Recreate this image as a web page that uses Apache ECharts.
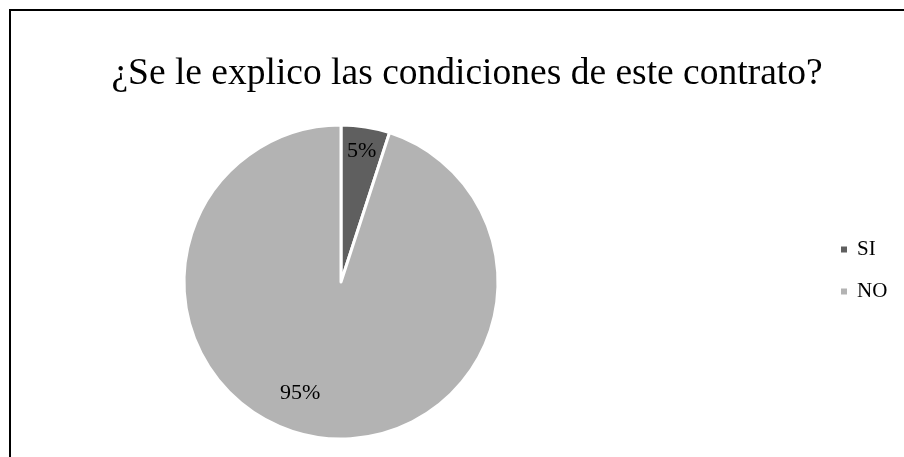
<!DOCTYPE html>
<html>
<head>
<meta charset="utf-8">
<script src="https://cdn.jsdelivr.net/npm/echarts@6/dist/echarts.min.js"></script>
<style>
  html, body { margin: 0; padding: 0; background: #fff; }
  #chart { width: 904px; height: 457px; }
</style>
</head>
<body>
<div id="chart"></div>
<script>
// Survey answers
const categories = ['SI', 'NO'];
const values = [5, 95];
const sliceColors = ['#5f5f5f', '#b3b3b3'];
const titleText = '¿Se le explico las condiciones de este contrato?';

const serif = "'Liberation Serif', 'Times New Roman', serif";

// nudges that move each percentage label from its default inside spot
const labelNudge = [[8, -50], [-28, 31]];

const chart = echarts.init(document.getElementById('chart'), null, { renderer: 'canvas' });

chart.setOption({
  animation: false,
  backgroundColor: '#ffffff',
  title: {
    text: titleText,
    left: 462,
    top: 50,
    textAlign: 'center',
    textStyle: { fontFamily: serif, fontSize: 37.5, fontWeight: 'normal', color: '#000' }
  },
  legend: {
    orient: 'vertical',
    left: 839,
    top: 239,
    padding: 0,
    itemWidth: 8,
    itemHeight: 8,
    itemGap: 21,
    icon: 'rect',
    data: categories,
    textStyle: { fontFamily: serif, fontSize: 21, color: '#000', padding: [0, 0, 0, 4] }
  },
  graphic: [{
    type: 'polyline',
    shape: { points: [[10, 457], [10, 10], [904, 10]] },
    style: { stroke: '#000', lineWidth: 2, fill: null }
  }],
  series: [{
    type: 'pie',
    center: [341, 282],
    radius: [0, 157],
    startAngle: 90,
    clockwise: true,
    color: sliceColors,
    itemStyle: { borderColor: '#fff', borderWidth: 3 },
    label: {
      show: true,
      position: 'inside',
      formatter: '{d}%',
      fontFamily: serif,
      fontSize: 22,
      color: '#000'
    },
    labelLayout: function (params) {
      const n = labelNudge[params.dataIndex] || [0, 0];
      return { dx: n[0], dy: n[1] };
    },
    emphasis: { disabled: true },
    data: categories.map((c, i) => ({ name: c, value: values[i] }))
  }]
});
</script>
</body>
</html>
